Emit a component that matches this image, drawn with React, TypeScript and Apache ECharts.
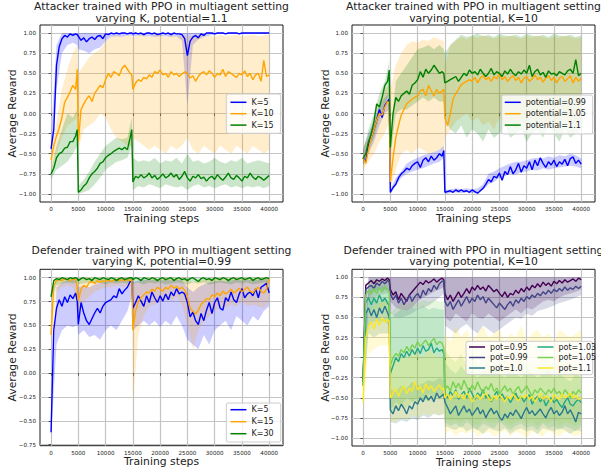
import React, { useEffect, useRef } from "react";
import * as echarts from "echarts";

// ---------- x grids ----------
const xLine = [
  0, 500, 1000, 1500, 2000, 2500, 3000, 3500, 4000, 4500,
  4800,
  5000, 5500, 6000, 6500, 7000, 7500, 8000, 8500, 9000, 9500,
  10000, 10500, 11000, 11500, 12000, 12500, 13000, 13500, 14000, 14500,
  14800,
  15000, 15500, 16000, 16500, 17000, 17500, 18000, 18500, 19000, 19500,
  20000, 20500, 21000, 21500, 22000, 22500, 23000, 23500, 24000, 24500,
  25000, 25500, 26000, 26500, 27000, 27500, 28000, 28500, 29000, 29500,
  30000, 30500, 31000, 31500, 32000, 32500, 33000, 33500, 34000, 34500,
  35000, 35500, 36000, 36500, 37000, 37500, 38000, 38500, 39000, 39500, 40000,
];
const xBand = [
  0, 1000, 2000, 3000, 4000,
  4800,
  5000, 6000, 7000, 8000, 9000, 10000, 11000, 12000, 13000, 14000,
  14800,
  15000, 16000, 17000, 18000, 19000, 20000, 21000, 22000, 23000, 24000,
  25000, 26000, 27000, 28000, 29000, 30000, 31000, 32000, 33000, 34000,
  35000, 36000, 37000, 38000, 39000, 40000,
];
const xTicks = [0, 5000, 10000, 15000, 20000, 25000, 30000, 35000, 40000];
const yTicksFull = [-1, -0.75, -0.5, -0.25, 0, 0.25, 0.5, 0.75, 1];
const yTicksP3 = [-0.75, -0.5, -0.25, 0, 0.25, 0.5, 0.75, 1];

// ---------- Panel 1: Attacker, varying K, potential=1.1 ----------
const p1K5 = [
  -0.44, -0.2, 0.6, 0.83, 0.93, 0.97, 0.95, 0.99, 0.97, 0.99,
  0.98,
  0.96, 0.91, 0.94, 0.89, 0.93, 0.95, 0.92, 0.96, 0.97, 0.93,
  0.99, 0.98, 1.0, 0.99, 1.0, 0.99, 1.0, 1.0, 0.99, 1.0,
  1.0,
  0.99, 1.0, 0.99, 1.0, 0.98, 1.0, 1.0, 0.99, 1.0, 0.98,
  0.99, 1.0, 0.99, 1.0, 0.98, 1.0, 0.99, 0.99, 0.98, 0.93,
  0.72, 0.9, 0.95, 0.97, 0.94, 0.99, 0.97, 1.0, 1.0, 1.0,
  0.99, 1.0, 1.0, 1.0, 0.99, 1.0, 1.0, 1.0, 1.0, 0.99,
  1.0, 1.0, 1.0, 1.0, 1.0, 1.0, 1.0, 1.0, 1.0, 1.0, 1.0,
];
const p1K5Lo = [
  -0.55, 0.3, 0.75, 0.85, 0.88,
  0.85,
  0.8, 0.78, 0.75, 0.8, 0.82, 0.9, 0.95, 0.96, 0.95, 0.97,
  0.97,
  0.96, 0.97, 0.96, 0.96, 0.95, 0.96, 0.96, 0.95, 0.96, 0.9,
  0.1, 0.85, 0.92, 0.95, 0.97, 0.98, 0.99, 0.99, 0.99, 0.99,
  0.99, 0.99, 0.99, 0.99, 0.99, 0.99,
];
const p1K5Hi = [
  -0.3, 0.85, 1.0, 1.0, 1.0,
  1.0,
  1.0, 1.0, 1.0, 1.0, 1.0, 1.0, 1.0, 1.0, 1.0, 1.0,
  1.0,
  1.0, 1.0, 1.0, 1.0, 1.0, 1.0, 1.0, 1.0, 1.0, 1.0,
  1.0, 1.0, 1.0, 1.0, 1.0, 1.0, 1.0, 1.0, 1.0, 1.0,
  1.0, 1.0, 1.0, 1.0, 1.0, 1.0,
];
const p1K10 = [
  -0.58, -0.4, -0.28, -0.18, -0.05, 0.14, 0.2, 0.27, 0.35, 0.3,
  0.55,
  -0.35, 0.05, 0.12, 0.18, 0.22, 0.15, 0.25, 0.3, 0.35, 0.32,
  0.42, 0.5, 0.45, 0.52, 0.5, 0.47, 0.56, 0.6, 0.55, 0.5,
  0.48,
  0.3, 0.38, 0.42, 0.4, 0.45, 0.43, 0.48, 0.45, 0.52, 0.5,
  0.54, 0.48, 0.5, 0.45, 0.52, 0.48, 0.5, 0.46, 0.49, 0.52,
  0.5, 0.44, 0.47, 0.4, 0.46, 0.5, 0.52, 0.48, 0.53, 0.5,
  0.45, 0.5, 0.48, 0.55, 0.46, 0.52, 0.5, 0.47, 0.45, 0.5,
  0.48, 0.53, 0.46, 0.5, 0.42, 0.48, 0.5, 0.4, 0.66, 0.46, 0.48,
];
const p1K10Lo = [
  -0.7, -0.5, -0.3, -0.15, -0.1,
  -0.05,
  -0.45, -0.2, -0.15, -0.1, 0.0, -0.05, -0.2, -0.3, -0.35, -0.4,
  -0.4,
  -0.3, -0.35, -0.4, -0.45, -0.4, -0.45, -0.5, -0.4, -0.45, -0.4,
  -0.3, -0.45, -0.5, -0.4, -0.45, -0.5, -0.4, -0.45, -0.5, -0.4,
  -0.45, -0.5, -0.4, -0.45, -0.5, -0.45,
];
const p1K10Hi = [
  -0.45, -0.1, 0.3, 0.55, 0.75,
  0.85,
  0.5, 0.6, 0.7, 0.75, 0.8, 0.9, 0.95, 0.98, 0.95, 0.97,
  0.97,
  0.95, 0.97, 0.98, 0.95, 0.97, 0.98, 0.95, 0.97, 0.96, 0.98,
  0.95, 0.97, 0.98, 0.96, 0.97, 0.95, 0.98, 0.96, 0.97, 0.98,
  0.96, 0.97, 0.98, 0.96, 0.97, 0.98,
];
const p1K15 = [
  -0.75, -0.68, -0.55, -0.5, -0.48, -0.43, -0.42, -0.35, -0.35, -0.28,
  -0.2,
  -0.98, -0.95, -0.9, -0.87, -0.8, -0.75, -0.72, -0.68, -0.62, -0.6,
  -0.55, -0.52, -0.5, -0.47, -0.45, -0.43, -0.45, -0.42, -0.45, -0.3,
  -0.2,
  -0.85, -0.78, -0.8, -0.76, -0.8, -0.78, -0.74, -0.8, -0.77, -0.82,
  -0.79, -0.75, -0.8, -0.78, -0.74, -0.79, -0.76, -0.82, -0.78, -0.72,
  -0.8, -0.84, -0.78, -0.8, -0.76, -0.81, -0.79, -0.84, -0.8, -0.78,
  -0.82, -0.76, -0.8, -0.83, -0.79, -0.74, -0.8, -0.82, -0.77, -0.8,
  -0.84, -0.78, -0.8, -0.74, -0.79, -0.82, -0.78, -0.8, -0.83, -0.8, -0.77,
];
const p1K15Lo = [
  -0.82, -0.7, -0.65, -0.6, -0.5,
  -0.4,
  -1.0, -0.98, -0.95, -0.88, -0.8, -0.7, -0.65, -0.6, -0.58, -0.55,
  -0.4,
  -0.95, -0.9, -0.92, -0.88, -0.9, -0.93, -0.88, -0.9, -0.92, -0.9,
  -0.95, -0.9, -0.88, -0.92, -0.9, -0.93, -0.9, -0.88, -0.92, -0.9,
  -0.93, -0.9, -0.92, -0.9, -0.93, -0.9,
];
const p1K15Hi = [
  -0.7, -0.4, -0.2, 0.0, -0.05,
  0.05,
  -0.9, -0.82, -0.72, -0.6, -0.5, -0.4, -0.35, -0.3, -0.32, -0.3,
  -0.05,
  -0.55, -0.6, -0.58, -0.6, -0.55, -0.62, -0.58, -0.6, -0.55, -0.62,
  -0.5, -0.6, -0.58, -0.62, -0.6, -0.55, -0.6, -0.62, -0.58, -0.6,
  -0.55, -0.62, -0.6, -0.58, -0.6, -0.62,
];

// ---------- Panel 2: Attacker, varying potential, K=10 ----------
const p2P099 = [
  -0.55, -0.6, -0.38, -0.3, -0.2, -0.08, 0.05, -0.05, 0.1, 0.15,
  0.18,
  -0.98, -0.92, -0.88, -0.8, -0.75, -0.72, -0.68, -0.7, -0.65, -0.62,
  -0.6, -0.67, -0.58, -0.55, -0.6, -0.53, -0.58, -0.55, -0.5, -0.53,
  -0.46,
  -0.98, -0.97, -0.96, -0.98, -0.95, -0.97, -0.95, -0.97, -0.96, -0.98,
  -0.95, -0.97, -0.99, -0.96, -0.93, -0.88, -0.82, -0.85, -0.78, -0.8,
  -0.74, -0.83, -0.72, -0.76, -0.66, -0.75, -0.7, -0.62, -0.73, -0.65,
  -0.68, -0.6, -0.7, -0.58, -0.65, -0.55, -0.62, -0.67, -0.6, -0.64,
  -0.58, -0.66, -0.6, -0.63, -0.57, -0.65, -0.56, -0.54, -0.62, -0.58, -0.63,
];
const p2P099Lo = [
  -0.65, -0.5, -0.35, -0.15, 0.0,
  0.05,
  -1.0, -0.9, -0.8, -0.75, -0.72, -0.7, -0.68, -0.65, -0.62, -0.6,
  -0.55,
  -1.0, -0.99, -0.98, -0.99, -0.98, -0.99, -0.99, -0.95, -0.88, -0.85,
  -0.8, -0.78, -0.75, -0.76, -0.73, -0.72, -0.7, -0.71, -0.68, -0.7,
  -0.68, -0.67, -0.66, -0.65, -0.66, -0.68,
];
const p2P099Hi = [
  -0.45, -0.25, -0.1, 0.1, 0.2,
  0.25,
  -0.95, -0.8, -0.72, -0.62, -0.58, -0.55, -0.52, -0.5, -0.48, -0.45,
  -0.4,
  -0.95, -0.94, -0.93, -0.94, -0.93, -0.94, -0.93, -0.88, -0.75, -0.72,
  -0.68, -0.65, -0.62, -0.6, -0.6, -0.58, -0.56, -0.55, -0.56, -0.53,
  -0.55, -0.52, -0.53, -0.5, -0.52, -0.56,
];
const p2P105 = [
  -0.55, -0.62, -0.45, -0.3, -0.2, -0.08, 0.0, -0.02, 0.08, 0.15,
  0.12,
  -0.85, -0.55, -0.3, -0.15, -0.02, 0.05, 0.12, 0.15, 0.18, 0.2,
  0.22, 0.28, 0.3, 0.22, 0.35, 0.28, 0.22, 0.3, 0.25, 0.28,
  0.3,
  -0.05, -0.15, 0.0, 0.18, 0.25, 0.3, 0.36, 0.38, 0.4, 0.42,
  0.4, 0.45, 0.38, 0.44, 0.47, 0.42, 0.45, 0.4, 0.46, 0.43,
  0.5, 0.42, 0.46, 0.4, 0.44, 0.47, 0.41, 0.45, 0.38, 0.44,
  0.46, 0.4, 0.43, 0.48, 0.42, 0.45, 0.39, 0.44, 0.47, 0.41,
  0.45, 0.38, 0.44, 0.46, 0.4, 0.43, 0.47, 0.38, 0.45, 0.4, 0.44,
];
const p2P105Lo = [
  -0.7, -0.6, -0.5, -0.35, -0.25,
  -0.1,
  -0.95, -0.7, -0.5, -0.45, -0.5, -0.42, -0.45, -0.5, -0.48, -0.45,
  -0.45,
  -0.3, -0.2, -0.1, -0.05, 0.0, -0.1, -0.05, -0.15, -0.1, -0.2,
  -0.05, -0.15, -0.1, -0.2, -0.1, -0.15, -0.05, -0.2, -0.1, -0.15,
  -0.1, -0.2, -0.05, -0.15, -0.1, -0.15,
];
const p2P105Hi = [
  -0.4, -0.3, -0.1, 0.15, 0.3,
  0.35,
  0.3, 0.6, 0.75, 0.85, 0.9, 0.88, 0.92, 0.9, 0.95, 0.92,
  0.9,
  0.6, 0.85, 0.9, 0.95, 0.92, 0.96, 0.94, 0.97, 0.95, 0.93,
  0.96, 0.94, 0.97, 0.95, 0.93, 0.96, 0.94, 0.97, 0.95, 0.93,
  0.96, 0.94, 0.97, 0.95, 0.93, 0.95,
];
const p2P11 = [
  -0.56, -0.5, -0.35, -0.25, -0.1, 0.12, 0.08, 0.2, 0.35, 0.4,
  0.54,
  -0.42, 0.0, 0.2, 0.15, 0.22, 0.25, 0.28, 0.24, 0.35, 0.38,
  0.42, 0.52, 0.45, 0.55, 0.5, 0.54, 0.6, 0.55, 0.5, 0.52,
  0.5,
  0.38, 0.4, 0.42, 0.44, 0.46, 0.4, 0.45, 0.5, 0.47, 0.54,
  0.5, 0.52, 0.48, 0.55, 0.5, 0.46, 0.5, 0.56, 0.48, 0.52,
  0.5, 0.46, 0.53, 0.49, 0.55, 0.5, 0.47, 0.52, 0.49, 0.54,
  0.5, 0.6, 0.46, 0.52, 0.55, 0.48, 0.51, 0.45, 0.53, 0.49,
  0.5, 0.47, 0.52, 0.5, 0.48, 0.53, 0.55, 0.5, 0.67, 0.47, 0.5,
];
const p2P11Lo = [
  -0.65, -0.45, -0.3, -0.05, 0.1,
  0.25,
  -0.55, 0.0, 0.05, 0.05, 0.1, 0.15, 0.2, 0.15, 0.2, 0.15,
  0.15,
  -0.05, -0.2, -0.25, -0.15, -0.3, -0.2, -0.25, -0.35, -0.2, -0.3,
  -0.25, -0.15, -0.3, -0.25, -0.2, -0.35, -0.25, -0.2, -0.3, -0.15,
  -0.25, -0.35, -0.2, -0.3, -0.25, -0.2,
];
const p2P11Hi = [
  -0.45, -0.2, 0.0, 0.25, 0.4,
  0.65,
  -0.3, 0.4, 0.5, 0.6, 0.7, 0.8, 0.82, 0.85, 0.8, 0.85,
  0.8,
  0.75, 0.85, 0.92, 0.98, 0.95, 0.97, 0.99, 0.96, 0.98, 0.95,
  0.99, 0.97, 0.96, 0.98, 0.95, 0.99, 0.97, 0.96, 0.98, 0.95,
  0.99, 0.97, 0.96, 0.98, 0.95, 0.97,
];

// ---------- Panel 3: Defender, varying K, potential=0.99 ----------
const p3K5 = [
  -0.62, 0.45, 0.68, 0.77, 0.7, 0.8, 0.74, 0.82, 0.78, 0.84,
  0.755,
  0.51, 0.74, 0.63, 0.55, 0.51, 0.57, 0.63, 0.68, 0.63, 0.7,
  0.74, 0.755, 0.77, 0.81, 0.79, 0.885, 0.83, 0.87, 0.9, 0.96,
  0.97,
  0.68, 0.74, 0.81, 0.755, 0.7, 0.81, 0.74, 0.85, 0.79, 0.74,
  0.81, 0.755, 0.83, 0.77, 0.85, 0.81, 0.885, 0.83, 0.85, 0.83,
  0.74, 0.59, 0.64, 0.55, 0.51, 0.625, 0.55, 0.66, 0.74, 0.625,
  0.74, 0.79, 0.68, 0.66, 0.79, 0.755, 0.85, 0.77, 0.74, 0.83,
  0.885, 0.79, 0.83, 0.85, 0.81, 0.885, 0.79, 0.9, 0.92, 0.94, 0.84,
];
const p3K5Lo = [
  -0.7, 0.3, 0.45, 0.5, 0.48,
  0.5,
  0.4, 0.45, 0.38, 0.4, 0.35, 0.45, 0.5, 0.45, 0.55, 0.65,
  0.8,
  0.45, 0.5, 0.55, 0.5, 0.55, 0.48, 0.55, 0.5, 0.6, 0.5,
  0.35, 0.3, 0.25, 0.4, 0.3, 0.45, 0.5, 0.55, 0.45, 0.6,
  0.55, 0.5, 0.6, 0.55, 0.65, 0.7,
];
const p3K5Hi = [
  -0.5, 0.9, 0.95, 0.97, 0.98,
  0.98,
  0.9, 0.92, 0.9, 0.93, 0.95, 0.96, 0.97, 0.98, 0.99, 1.0,
  1.0,
  0.95, 0.97, 0.98, 0.97, 0.98, 0.97, 0.98, 0.97, 0.98, 0.97,
  0.9, 0.85, 0.9, 0.93, 0.95, 0.96, 0.97, 0.96, 0.97, 0.98,
  0.97, 0.98, 0.97, 0.98, 0.99, 0.98,
];
const p3K15 = [
  0.4, 0.92, 0.97, 0.98, 0.97, 0.99, 0.98, 0.97, 0.99, 0.98,
  0.9,
  0.76, 0.88, 0.92, 0.9, 0.95, 0.96, 0.94, 0.97, 0.95, 0.97,
  0.96, 0.98, 0.96, 0.97, 0.98, 0.97, 0.98, 0.97, 0.98, 0.97,
  0.98,
  0.45, 0.65, 0.75, 0.79, 0.82, 0.85, 0.84, 0.88, 0.86, 0.9,
  0.88, 0.86, 0.9, 0.88, 0.92, 0.89, 0.91, 0.88, 0.9, 0.87,
  0.8, 0.68, 0.65, 0.62, 0.66, 0.72, 0.75, 0.78, 0.77, 0.82,
  0.8, 0.84, 0.81, 0.86, 0.83, 0.85, 0.88, 0.84, 0.86, 0.89,
  0.85, 0.88, 0.9, 0.86, 0.84, 0.88, 0.9, 0.86, 0.84, 0.88, 0.99,
];
const p3K15Lo = [
  0.2, 0.85, 0.9, 0.92, 0.9,
  0.75,
  0.6, 0.75, 0.8, 0.85, 0.88, 0.9, 0.9, 0.92, 0.9, 0.92,
  0.9,
  -0.3, 0.4, 0.6, 0.7, 0.72, 0.75, 0.78, 0.75, 0.8, 0.72,
  0.5, 0.25, 0.45, 0.55, 0.6, 0.65, 0.7, 0.68, 0.72, 0.7,
  0.75, 0.7, 0.72, 0.7, 0.68, 0.75,
];
const p3K15Hi = [
  0.6, 1.0, 1.0, 1.0, 1.0,
  1.0,
  0.95, 1.0, 1.0, 1.0, 1.0, 1.0, 1.0, 1.0, 1.0, 1.0,
  1.0,
  0.95, 0.95, 0.97, 0.98, 0.99, 0.99, 1.0, 1.0, 1.0, 1.0,
  0.98, 0.95, 0.97, 0.98, 0.99, 1.0, 1.0, 1.0, 1.0, 1.0,
  1.0, 1.0, 1.0, 1.0, 1.0, 1.0,
];
const p3K30 = [
  0.8, 0.97, 0.99, 0.98, 1.0, 0.99, 0.98, 1.0, 0.99, 1.0,
  0.99,
  0.97, 0.99, 1.0, 0.98, 0.99, 0.97, 1.0, 0.99, 0.98, 1.0,
  0.99, 0.98, 1.0, 0.99, 0.97, 0.99, 1.0, 0.98, 0.99, 1.0,
  1.0,
  0.98, 1.0, 0.99, 0.97, 1.0, 0.99, 0.98, 1.0, 0.99, 0.97,
  0.99, 1.0, 0.98, 0.99, 1.0, 0.97, 0.99, 1.0, 0.98, 0.99,
  0.97, 0.99, 1.0, 0.98, 0.96, 0.99, 1.0, 0.98, 0.99, 0.97,
  1.0, 0.99, 0.98, 1.0, 0.99, 0.97, 0.99, 1.0, 0.98, 0.99,
  1.0, 0.98, 0.99, 1.0, 0.97, 0.99, 1.0, 0.98, 0.99, 1.0, 0.99,
];
const p3K30Lo = [
  0.75, 0.92, 0.94, 0.95, 0.94,
  0.95,
  0.93, 0.94, 0.95, 0.94, 0.95, 0.93, 0.95, 0.94, 0.95, 0.94,
  0.95,
  0.94, 0.95, 0.93, 0.95, 0.94, 0.95, 0.93, 0.94, 0.95, 0.94,
  0.93, 0.95, 0.94, 0.95, 0.93, 0.94, 0.95, 0.94, 0.93, 0.95,
  0.94, 0.95, 0.93, 0.94, 0.95, 0.94,
];
const p3K30Hi = [
  0.85, 1.0, 1.0, 1.0, 1.0,
  1.0,
  1.0, 1.0, 1.0, 1.0, 1.0, 1.0, 1.0, 1.0, 1.0, 1.0,
  1.0,
  1.0, 1.0, 1.0, 1.0, 1.0, 1.0, 1.0, 1.0, 1.0, 1.0,
  1.0, 1.0, 1.0, 1.0, 1.0, 1.0, 1.0, 1.0, 1.0, 1.0,
  1.0, 1.0, 1.0, 1.0, 1.0, 1.0,
];

// ---------- Panel 4: Defender, varying potential, K=10 ----------
const p4P095 = [
  -0.3, 0.9, 0.93, 0.96, 0.92, 0.97, 0.95, 0.98, 0.96, 0.99,
  0.97,
  0.85, 0.78, 0.82, 0.72, 0.8, 0.75, 0.7, 0.78, 0.82, 0.86,
  0.9, 0.94, 0.91, 0.96, 0.93, 0.95, 0.98, 0.94, 0.97, 0.99,
  0.97,
  0.8, 0.72, 0.78, 0.7, 0.76, 0.82, 0.75, 0.8, 0.86, 0.8,
  0.88, 0.84, 0.9, 0.85, 0.88, 0.83, 0.9, 0.86, 0.82, 0.85,
  0.8, 0.76, 0.82, 0.75, 0.8, 0.78, 0.84, 0.8, 0.86, 0.82,
  0.88, 0.84, 0.9, 0.87, 0.92, 0.88, 0.94, 0.9, 0.93, 0.89,
  0.95, 0.92, 0.96, 0.93, 0.97, 0.94, 0.96, 0.98, 0.95, 0.99, 0.97,
];
const p4P095Lo = [
  -0.45, 0.75, 0.82, 0.85, 0.85,
  0.85,
  0.7, 0.62, 0.6, 0.58, 0.62, 0.7, 0.75, 0.78, 0.82, 0.85,
  0.88,
  0.5, 0.45, 0.55, 0.5, 0.45, 0.55, 0.5, 0.48, 0.55, 0.5,
  0.45, 0.5, 0.55, 0.6, 0.55, 0.62, 0.6, 0.65, 0.7, 0.72,
  0.7, 0.75, 0.78, 0.8, 0.82, 0.85,
];
const p4P095Hi = [
  -0.15, 1.0, 1.0, 1.0, 1.0,
  1.0,
  1.0, 1.0, 1.0, 1.0, 1.0, 1.0, 1.0, 1.0, 1.0, 1.0,
  1.0,
  1.0, 1.0, 1.0, 1.0, 1.0, 1.0, 1.0, 1.0, 1.0, 1.0,
  1.0, 1.0, 1.0, 1.0, 1.0, 1.0, 1.0, 1.0, 1.0, 1.0,
  1.0, 1.0, 1.0, 1.0, 1.0, 1.0,
];
const p4P099 = [
  -0.3, 0.85, 0.88, 0.9, 0.86, 0.93, 0.9, 0.95, 0.92, 0.96,
  0.95,
  0.8, 0.72, 0.78, 0.68, 0.74, 0.66, 0.72, 0.78, 0.7, 0.76,
  0.8, 0.74, 0.84, 0.78, 0.86, 0.82, 0.9, 0.85, 0.92, 0.95,
  0.96,
  0.7, 0.64, 0.7, 0.6, 0.66, 0.72, 0.64, 0.7, 0.76, 0.68,
  0.74, 0.7, 0.78, 0.72, 0.76, 0.68, 0.74, 0.7, 0.66, 0.62,
  0.68, 0.64, 0.6, 0.66, 0.7, 0.64, 0.72, 0.68, 0.74, 0.7,
  0.76, 0.73, 0.78, 0.75, 0.8, 0.77, 0.82, 0.79, 0.84, 0.8,
  0.85, 0.82, 0.86, 0.83, 0.88, 0.84, 0.87, 0.85, 0.89, 0.86, 0.89,
];
const p4P099Lo = [
  -0.45, 0.7, 0.75, 0.78, 0.8,
  0.8,
  0.55, 0.5, 0.5, 0.52, 0.55, 0.6, 0.62, 0.65, 0.7, 0.75,
  0.8,
  0.4, 0.35, 0.3, 0.38, 0.42, 0.35, 0.3, 0.4, 0.35, 0.3,
  0.35, 0.4, 0.45, 0.5, 0.48, 0.55, 0.52, 0.58, 0.6, 0.62,
  0.65, 0.68, 0.7, 0.72, 0.75, 0.78,
];
const p4P099Hi = [
  -0.15, 1.0, 1.0, 1.0, 1.0,
  1.0,
  1.0, 1.0, 1.0, 1.0, 1.0, 1.0, 1.0, 1.0, 1.0, 1.0,
  1.0,
  1.0, 1.0, 1.0, 1.0, 1.0, 1.0, 1.0, 1.0, 1.0, 1.0,
  1.0, 1.0, 1.0, 1.0, 1.0, 1.0, 1.0, 1.0, 1.0, 1.0,
  1.0, 1.0, 1.0, 1.0, 1.0, 1.0,
];
const p4P100 = [
  -0.35, 0.55, 0.62, 0.52, 0.6, 0.5, 0.62, 0.55, 0.64, 0.56,
  0.5,
  -0.65, -0.7, -0.6, -0.66, -0.58, -0.63, -0.7, -0.6, -0.64, -0.55,
  -0.58, -0.5, -0.55, -0.47, -0.53, -0.48, -0.55, -0.44, -0.5, -0.47,
  -0.45,
  -0.55, -0.62, -0.7, -0.65, -0.6, -0.72, -0.66, -0.6, -0.68, -0.64,
  -0.72, -0.67, -0.62, -0.7, -0.65, -0.75, -0.68, -0.63, -0.7, -0.66,
  -0.74, -0.78, -0.7, -0.75, -0.68, -0.72, -0.65, -0.7, -0.76, -0.68,
  -0.62, -0.7, -0.66, -0.72, -0.68, -0.64, -0.7, -0.75, -0.67, -0.62,
  -0.7, -0.66, -0.72, -0.68, -0.6, -0.7, -0.65, -0.72, -0.8, -0.68, -0.7,
];
const p4P100Lo = [
  -0.5, 0.3, 0.25, 0.3, 0.3,
  0.3,
  -0.8, -0.82, -0.78, -0.8, -0.75, -0.78, -0.72, -0.75, -0.7, -0.72,
  -0.7,
  -0.85, -0.88, -0.9, -0.85, -0.92, -0.88, -0.9, -0.95, -0.88, -0.9,
  -0.92, -0.88, -0.95, -0.9, -0.88, -0.92, -0.9, -0.95, -0.88, -0.9,
  -0.92, -0.88, -0.9, -0.95, -0.9, -0.92,
];
const p4P100Hi = [
  -0.2, 0.7, 0.75, 0.7, 0.75,
  0.7,
  -0.4, -0.42, -0.35, -0.38, -0.3, -0.35, -0.32, -0.28, -0.3, -0.25,
  -0.28,
  -0.45, -0.5, -0.48, -0.5, -0.45, -0.52, -0.48, -0.5, -0.46, -0.5,
  -0.52, -0.48, -0.5, -0.46, -0.5, -0.52, -0.48, -0.5, -0.46, -0.5,
  -0.48, -0.52, -0.5, -0.46, -0.5, -0.48,
];
const p4P103 = [
  -0.3, 0.68, 0.75, 0.66, 0.74, 0.68, 0.78, 0.7, 0.74, 0.68,
  0.65,
  -0.2, -0.1, 0.0, -0.05, 0.05, 0.0, 0.08, 0.02, 0.1, 0.04,
  0.12, 0.05, 0.15, 0.08, 0.1, 0.18, 0.06, 0.12, 0.08, 0.1,
  0.05,
  -0.45, -0.5, -0.42, -0.48, -0.4, -0.52, -0.46, -0.42, -0.5, -0.38,
  -0.45, -0.52, -0.44, -0.48, -0.4, -0.5, -0.46, -0.55, -0.48, -0.42,
  -0.5, -0.45, -0.52, -0.48, -0.56, -0.5, -0.44, -0.52, -0.48, -0.55,
  -0.5, -0.46, -0.58, -0.52, -0.48, -0.55, -0.5, -0.6, -0.54, -0.5,
  -0.56, -0.52, -0.58, -0.62, -0.55, -0.5, -0.58, -0.6, -0.55, -0.52, -0.56,
];
const p4P103Lo = [
  -0.45, 0.4, 0.45, 0.45, 0.45,
  0.4,
  -0.65, -0.55, -0.6, -0.5, -0.55, -0.5, -0.55, -0.45, -0.5, -0.45,
  -0.5,
  -0.8, -0.85, -0.82, -0.88, -0.8, -0.85, -0.9, -0.82, -0.85, -0.88,
  -0.8, -0.85, -0.9, -0.85, -0.82, -0.88, -0.85, -0.9, -0.82, -0.88,
  -0.85, -0.9, -0.85, -0.88, -0.92, -0.85,
];
const p4P103Hi = [
  -0.15, 0.85, 0.9, 0.88, 0.9,
  0.85,
  0.5, 0.55, 0.6, 0.58, 0.62, 0.6, 0.65, 0.6, 0.62, 0.6,
  0.6,
  -0.05, -0.15, -0.2, -0.1, -0.2, -0.15, -0.25, -0.15, -0.2, -0.1,
  -0.2, -0.25, -0.15, -0.2, -0.25, -0.15, -0.2, -0.25, -0.2, -0.15,
  -0.25, -0.2, -0.25, -0.3, -0.2, -0.25,
];
const p4P105 = [
  -0.35, 0.78, 0.84, 0.8, 0.86, 0.8, 0.87, 0.82, 0.88, 0.84,
  0.82,
  -0.1, 0.0, 0.05, 0.02, 0.1, 0.06, 0.14, 0.08, 0.16, 0.12,
  0.2, 0.14, 0.18, 0.22, 0.15, 0.2, 0.24, 0.16, 0.2, 0.18,
  0.12,
  -0.4, -0.35, -0.42, -0.3, -0.38, -0.32, -0.4, -0.28, -0.36, -0.42,
  -0.34, -0.4, -0.3, -0.38, -0.44, -0.36, -0.4, -0.32, -0.42, -0.38,
  -0.45, -0.4, -0.35, -0.42, -0.38, -0.46, -0.4, -0.36, -0.44, -0.4,
  -0.35, -0.42, -0.48, -0.4, -0.44, -0.38, -0.42, -0.46, -0.4, -0.44,
  -0.38, -0.45, -0.42, -0.48, -0.4, -0.44, -0.5, -0.42, -0.46, -0.4, -0.44,
];
const p4P105Lo = [
  -0.5, 0.55, 0.6, 0.6, 0.62,
  0.6,
  -0.7, -0.65, -0.6, -0.62, -0.55, -0.58, -0.5, -0.55, -0.5, -0.52,
  -0.5,
  -0.75, -0.8, -0.78, -0.82, -0.75, -0.8, -0.85, -0.78, -0.8, -0.82,
  -0.78, -0.8, -0.85, -0.8, -0.78, -0.82, -0.8, -0.85, -0.8, -0.82,
  -0.78, -0.85, -0.8, -0.82, -0.85, -0.8,
];
const p4P105Hi = [
  -0.15, 0.95, 0.98, 0.97, 0.98,
  0.97,
  0.55, 0.62, 0.68, 0.65, 0.7, 0.68, 0.72, 0.7, 0.72, 0.7,
  0.7,
  0.1, 0.0, -0.05, 0.05, -0.1, 0.0, -0.05, -0.1, 0.0, -0.05,
  -0.1, 0.0, -0.1, -0.05, 0.0, -0.1, -0.05, -0.1, 0.0, -0.05,
  -0.1, -0.05, 0.0, -0.1, -0.05, -0.1,
];
const p4P110 = [
  -0.55, 0.25, 0.38, 0.45, 0.35, 0.48, 0.4, 0.5, 0.44, 0.48,
  0.45,
  -0.5, -0.45, -0.38, -0.48, -0.4, -0.35, -0.45, -0.38, -0.42, -0.3,
  -0.4, -0.36, -0.44, -0.32, -0.4, -0.35, -0.42, -0.38, -0.34, -0.4,
  -0.38,
  -0.5, -0.45, -0.52, -0.48, -0.42, -0.5, -0.46, -0.52, -0.44, -0.48,
  -0.55, -0.5, -0.46, -0.52, -0.48, -0.44, -0.5, -0.54, -0.47, -0.52,
  -0.46, -0.5, -0.55, -0.48, -0.52, -0.45, -0.5, -0.54, -0.48, -0.5,
  -0.46, -0.52, -0.48, -0.55, -0.5, -0.45, -0.52, -0.48, -0.5, -0.55,
  -0.46, -0.5, -0.52, -0.45, -0.5, -0.48, -0.44, -0.5, -0.47, -0.52, -0.5,
];
const p4P110Lo = [
  -0.7, 0.05, 0.1, 0.15, 0.15,
  0.15,
  -0.8, -0.8, -0.75, -0.78, -0.72, -0.75, -0.7, -0.72, -0.7, -0.72,
  -0.7,
  -0.95, -0.9, -0.98, -0.92, -0.95, -0.9, -0.98, -0.95, -0.92, -0.98,
  -0.95, -0.9, -0.98, -0.92, -0.95, -1.0, -0.92, -0.95, -0.98, -0.9,
  -0.95, -0.98, -0.92, -0.95, -0.98, -0.95,
];
const p4P110Hi = [
  -0.4, 0.55, 0.65, 0.7, 0.7,
  0.7,
  -0.1, 0.0, 0.05, 0.0, 0.1, 0.05, 0.0, 0.1, 0.05, 0.0,
  0.0,
  0.3, 0.2, 0.4, 0.25, 0.35, 0.2, 0.3, 0.4, 0.25, 0.3,
  0.35, 0.2, 0.3, 0.25, 0.4, 0.2, 0.3, 0.35, 0.25, 0.3,
  0.2, 0.35, 0.3, 0.25, 0.3, 0.35,
];

// ---------- layout / styling ----------
const FONT = "DejaVu Sans";
const TXT = "#222222";

type Spec = { name: string; color: string; line: number[]; lo: number[]; hi: number[] };
type Panel = {
  grid: { left: number; top: number; width: number; height: number };
  yMin: number;
  yMax: number;
  yTicks: number[];
  title: [string, string];
  cx: number;
  titleY: number;
  xNameY: number;
  yNameX: number;
  box: [number, number, number, number];
  legends: { left: number; top: number; gap: number; names: string[] }[];
  specs: Spec[];
};

const VIR = ["#440154", "#414487", "#2a788e", "#22a884", "#7ad151", "#fde725"];

const panels: Panel[] = [
  {
    grid: { left: 40, top: 25, width: 243, height: 177 },
    yMin: -1.1, yMax: 1.1, yTicks: yTicksFull,
    title: ["Attacker trained with PPO in multiagent setting", "varying K, potential=1.1"],
    cx: 161.5, titleY: 6.6, xNameY: 218, yNameX: 12.5,
    box: [226.3, 94, 54.4, 39.3],
    legends: [{ left: 229.7, top: 98.3, gap: 3.4, names: ["K=5", "K=10", "K=15"] }],
    specs: [
      { name: "K=5", color: "#0000ff", line: p1K5, lo: p1K5Lo, hi: p1K5Hi },
      { name: "K=10", color: "#ffa500", line: p1K10, lo: p1K10Lo, hi: p1K10Hi },
      { name: "K=15", color: "#008000", line: p1K15, lo: p1K15Lo, hi: p1K15Hi },
    ],
  },
  {
    grid: { left: 352, top: 25, width: 243, height: 177 },
    yMin: -1.1, yMax: 1.1, yTicks: yTicksFull,
    title: ["Attacker trained with PPO in multiagent setting", "varying potential, K=10"],
    cx: 473.5, titleY: 6.6, xNameY: 218, yNameX: 325,
    box: [501.7, 95, 91, 39],
    legends: [{ left: 504, top: 98.3, gap: 3.4, names: ["potential=0.99", "potential=1.05", "potential=1.1"] }],
    specs: [
      { name: "potential=0.99", color: "#0000ff", line: p2P099, lo: p2P099Lo, hi: p2P099Hi },
      { name: "potential=1.05", color: "#ffa500", line: p2P105, lo: p2P105Lo, hi: p2P105Hi },
      { name: "potential=1.1", color: "#008000", line: p2P11, lo: p2P11Lo, hi: p2P11Hi },
    ],
  },
  {
    grid: { left: 40, top: 269.3, width: 243, height: 176.4 },
    yMin: -0.76, yMax: 1.088, yTicks: yTicksP3,
    title: ["Defender trained with PPO in multiagent setting", "varying K, potential=0.99"],
    cx: 161.5, titleY: 250, xNameY: 461.7, yNameX: 12.5,
    box: [226.3, 403, 54.4, 39],
    legends: [{ left: 229.7, top: 405.7, gap: 4, names: ["K=5", "K=15", "K=30"] }],
    specs: [
      { name: "K=5", color: "#0000ff", line: p3K5, lo: p3K5Lo, hi: p3K5Hi },
      { name: "K=15", color: "#ffa500", line: p3K15, lo: p3K15Lo, hi: p3K15Hi },
      { name: "K=30", color: "#008000", line: p3K30, lo: p3K30Lo, hi: p3K30Hi },
    ],
  },
  {
    grid: { left: 352, top: 269.3, width: 243, height: 176.7 },
    yMin: -1.1, yMax: 1.1, yTicks: yTicksFull,
    title: ["Defender trained with PPO in multiagent setting", "varying potential, K=10"],
    cx: 473.5, titleY: 250, xNameY: 462, yNameX: 325,
    box: [466, 341.3, 126.7, 33.4],
    legends: [
      { left: 468.3, top: 343, gap: 2.5, names: ["pot=0.95", "pot=0.99", "pot=1.0"] },
      { left: 536.7, top: 343, gap: 2.5, names: ["pot=1.03", "pot=1.05", "pot=1.1"] },
    ],
    specs: [
      { name: "pot=0.95", color: VIR[0], line: p4P095, lo: p4P095Lo, hi: p4P095Hi },
      { name: "pot=0.99", color: VIR[1], line: p4P099, lo: p4P099Lo, hi: p4P099Hi },
      { name: "pot=1.0", color: VIR[2], line: p4P100, lo: p4P100Lo, hi: p4P100Hi },
      { name: "pot=1.03", color: VIR[3], line: p4P103, lo: p4P103Lo, hi: p4P103Hi },
      { name: "pot=1.05", color: VIR[4], line: p4P105, lo: p4P105Lo, hi: p4P105Hi },
      { name: "pot=1.1", color: VIR[5], line: p4P110, lo: p4P110Lo, hi: p4P110Hi },
    ],
  },
];

function fmtY(v: number) {
  const s = Math.abs(v).toFixed(2);
  return v < -1e-9 ? "\u2212" + s : s;
}

function buildOption() {
  const grid: any[] = [];
  const xAxis: any[] = [];
  const yAxis: any[] = [];
  const series: any[] = [];
  const legend: any[] = [];
  const graphic: any[] = [];
  const problems: string[] = [];

  panels.forEach((p, pi) => {
    grid.push({ ...p.grid, show: true, borderColor: "#1a1a1a", borderWidth: 1, backgroundColor: "transparent", containLabel: false, outerBoundsMode: "none" });
    const tickLine = { color: "#333333", width: 0.8 };
    const split = { show: true, lineStyle: { color: "#c4c4c4", width: 1.2 } };
    xAxis.push({
      type: "value", gridIndex: pi, min: -2025, max: 42525,
      axisLine: { show: false },
      axisTick: { show: true, customValues: xTicks, length: 2.5, lineStyle: tickLine },
      axisLabel: { customValues: xTicks, fontSize: 5.6, fontFamily: FONT, color: TXT, margin: 4, formatter: (v: number) => String(Math.round(v)) },
      splitLine: split,
    });
    yAxis.push({
      type: "value", gridIndex: pi, min: p.yMin, max: p.yMax,
      axisLine: { show: false },
      axisTick: { show: true, customValues: p.yTicks, length: 2.5, lineStyle: tickLine },
      axisLabel: { customValues: p.yTicks, fontSize: 5.6, fontFamily: FONT, color: TXT, margin: 4, formatter: fmtY },
      splitLine: split,
    });

    p.specs.forEach((s) => {
      if (s.line.length !== xLine.length) problems.push(`${pi} ${s.name} line ${s.line.length}`);
      if (s.lo.length !== xBand.length) problems.push(`${pi} ${s.name} lo ${s.lo.length}`);
      if (s.hi.length !== xBand.length) problems.push(`${pi} ${s.name} hi ${s.hi.length}`);
      const lo = s.lo, hi = s.hi, color = s.color;
      series.push({
        type: "custom",
        name: `${pi}|${s.name}|band`,
        xAxisIndex: pi, yAxisIndex: pi,
        z: 1, silent: true,
        data: xBand.map((x, i) => [x, lo[i], hi[i]]),
        encode: { x: 0, y: [1, 2] },
        renderItem: (params: any, api: any) => {
          if (params.dataIndex !== 0) return { type: "group", children: [] };
          const pts: number[][] = [];
          for (let i = 0; i < xBand.length; i++) pts.push(api.coord([xBand[i], hi[i]]));
          for (let i = xBand.length - 1; i >= 0; i--) pts.push(api.coord([xBand[i], lo[i]]));
          return { type: "polygon", shape: { points: pts }, style: { fill: color, opacity: 0.2 } };
        },
      });
    });
    p.specs.forEach((s) => {
      series.push({
        type: "line",
        name: `${pi}|${s.name}`,
        xAxisIndex: pi, yAxisIndex: pi,
        z: 2,
        symbol: "none", showSymbol: false,
        color: s.color,
        lineStyle: { color: s.color, width: 1.4 },
        itemStyle: { color: s.color },
        data: xLine.map((x, i) => [x, s.line[i]]),
      });
    });

    p.legends.forEach((lg) => {
      legend.push({
        orient: "vertical", left: lg.left, top: lg.top,
        itemWidth: 16, itemHeight: 8, itemGap: lg.gap, padding: 0, z: 6,
        selectedMode: false,
        itemStyle: { opacity: 0, borderWidth: 0 },
        lineStyle: { width: 1.5, opacity: 1 },
        data: lg.names.map((n) => `${pi}|${n}`),
        formatter: (n: string) => n.split("|")[1],
        textStyle: { fontSize: 8, fontFamily: FONT, color: TXT },
      });
    });

    graphic.push({
      type: "rect", z: 5,
      shape: { x: p.box[0], y: p.box[1], width: p.box[2], height: p.box[3], r: 2 },
      style: { fill: "rgba(255,255,255,0.8)", stroke: "#cccccc", lineWidth: 1 },
    });
    const tstyle = { fontSize: 10.8, fontFamily: FONT, fill: TXT, textAlign: "center", textVerticalAlign: "middle" };
    graphic.push({ type: "text", x: p.cx, y: p.titleY, z: 10, style: { ...tstyle, text: p.title[0] } });
    graphic.push({ type: "text", x: p.cx, y: p.titleY + 11.6, z: 10, style: { ...tstyle, text: p.title[1] } });
    graphic.push({ type: "text", x: p.cx, y: p.xNameY, z: 10, style: { ...tstyle, text: "Training steps" } });
    graphic.push({
      type: "text", x: p.yNameX, y: p.grid.top + p.grid.height / 2, rotation: Math.PI / 2, z: 10,
      style: { ...tstyle, text: "Average Reward" },
    });
  });

  if (problems.length) {
    graphic.push({ type: "text", x: 5, y: 5, z: 100, style: { text: problems.join("\n"), fill: "red", fontSize: 10 } });
  }

  return { animation: false, grid, xAxis, yAxis, series, legend, graphic };
}

export default function App() {
  const ref = useRef<HTMLDivElement>(null);
  useEffect(() => {
    document.body.style.margin = "0";
    const chart = echarts.init(ref.current as HTMLDivElement, null, { renderer: "svg" });
    chart.setOption(buildOption() as any);
    return () => chart.dispose();
  }, []);
  return <div ref={ref} style={{ width: 601, height: 474 }} />;
}
